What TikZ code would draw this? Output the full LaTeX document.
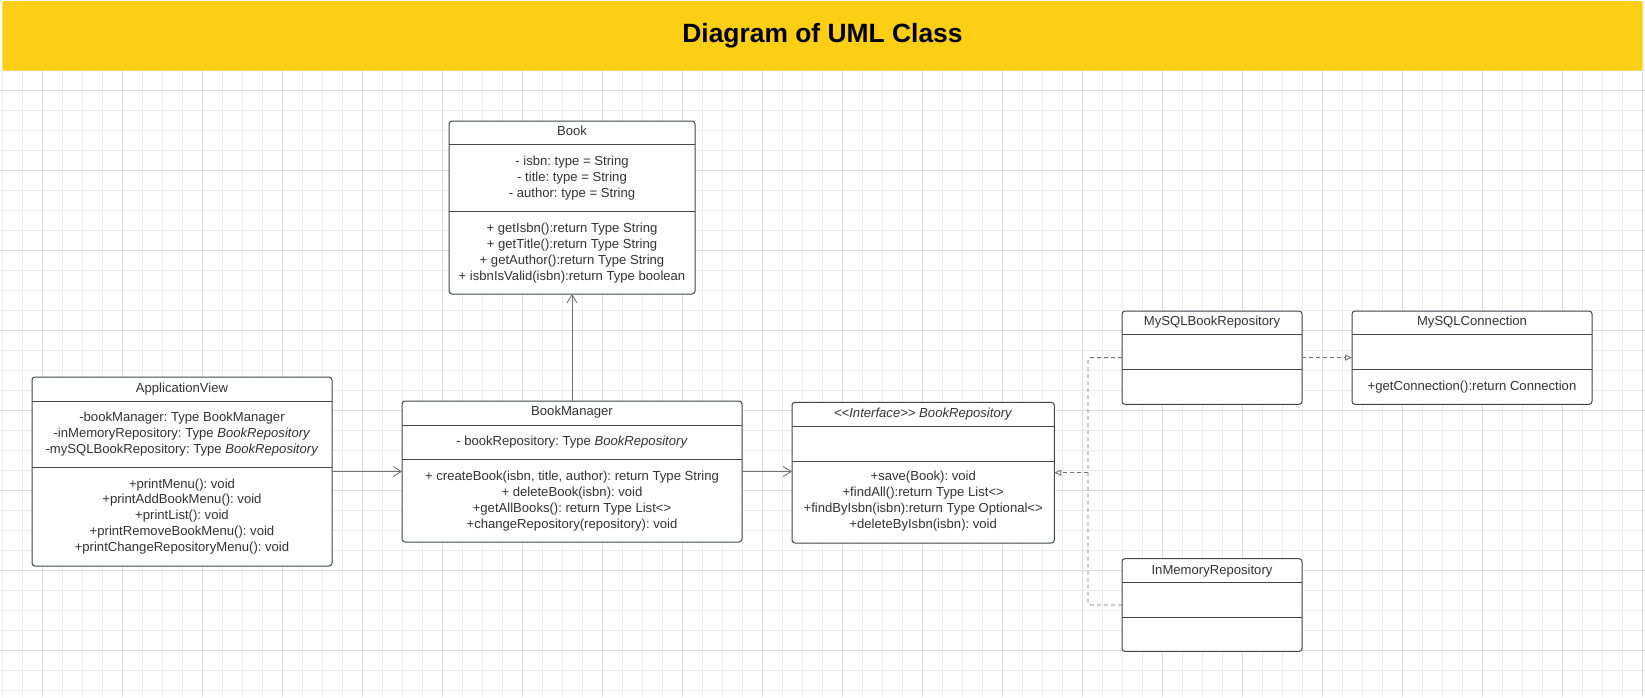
\documentclass[tikz,border=0pt]{standalone}
\usepackage{fontspec}
\setmainfont{Liberation Sans}
\usetikzlibrary{arrows.meta,calc}
\definecolor{bar}{RGB}{252,206,21}
\definecolor{gridminor}{RGB}{236,236,236}
\definecolor{gridmajor}{RGB}{220,220,220}
\definecolor{boxline}{RGB}{66,70,76}
\definecolor{txt}{RGB}{51,51,51}
\definecolor{conn}{RGB}{115,115,115}
\frenchspacing
\begin{document}
\begin{tikzpicture}[x=1pt,y=-1pt,
  cls/.style={draw=boxline, line width=1pt, rounded corners=3pt, fill=white, inner sep=0pt, outer sep=0pt, anchor=north west},
  sep/.style={draw=boxline, line width=1pt},
  ln/.style={font=\fontsize{13.1}{15.9}\selectfont\frenchspacing, text=txt, inner sep=0pt, anchor=base},
  assoc/.style={draw=conn, line width=0.9pt, -{Straight Barb[length=8pt,width=10pt,line width=0.9pt]}},
  real/.style={draw=conn, line width=0.9pt, dash pattern=on 4pt off 3pt, rounded corners=3pt},
  realtip/.style={-{Triangle[open,length=7pt,width=6pt,line width=0.9pt]}}
]
\useasboundingbox (0,0) rectangle (1645,697);
\fill[white] (0,0) rectangle (1645,697);
% grid
\foreach \i in {0,...,82} \draw[gridminor, line width=0.7pt] ({2.3+20*\i},70) -- ({2.3+20*\i},697);
\foreach \j in {3,...,34} \draw[gridminor, line width=0.7pt] (0,{10.3+20*\j}) -- (1645,{10.3+20*\j});
\foreach \i in {0,...,20} \draw[gridmajor, line width=0.8pt] ({42.3+80*\i},70) -- ({42.3+80*\i},697);
\foreach \j in {0,...,7} \draw[gridmajor, line width=0.8pt] (0,{90.3+80*\j}) -- (1645,{90.3+80*\j});
% title bar
\fill[bar, rounded corners=2pt] (2.3,1) rectangle (1642.7,70.7);
\node[font=\fontsize{26.4}{30}\selectfont\bfseries, anchor=base, inner sep=0pt] (title) at (822.5,42.3) {Diagram of UML Class};

% Book
\node[cls, minimum width=246pt, minimum height=173pt] (book) at (449,121) {};
\draw[sep] ([yshift=-23.7pt]book.north west) -- ([yshift=-23.7pt]book.north east);
\draw[sep] ([yshift=-90pt]book.north west) -- ([yshift=-90pt]book.north east);
\node[ln] (book-t) at (572,135.7) {Book};
\foreach \t [count=\i] in {{- isbn: type = String},{- title: type = String},{- author: type = String}}
  \node[ln] (book-a\i) at (572,{165.4+15.9*(\i-1)}) {\t};
\foreach \t [count=\i] in {{+ getIsbn():return Type String},{+ getTitle():return Type String},{+ getAuthor():return Type String},{+ isbnIsValid(isbn):return Type boolean}}
  \node[ln] (book-m\i) at (572,{232.4+15.9*(\i-1)}) {\t};

% ApplicationView
\node[cls, minimum width=300pt, minimum height=189pt] (av) at (32,377) {};
\draw[sep] ([yshift=-24pt]av.north west) -- ([yshift=-24pt]av.north east);
\draw[sep] ([yshift=-90.7pt]av.north west) -- ([yshift=-90.7pt]av.north east);
\node[ln] (av-t) at (182,392) {ApplicationView};
\foreach \t [count=\i] in {{-bookManager: Type BookManager},{-inMemoryRepository: Type \textit{BookRepository}},{-mySQLBookRepository: Type \textit{BookRepository}}}
  \node[ln] (av-a\i) at (182,{421.4+15.9*(\i-1)}) {\t};
\foreach \t [count=\i] in {{+printMenu(): void},{+printAddBookMenu(): void},{+printList(): void},{+printRemoveBookMenu(): void},{+printChangeRepositoryMenu(): void}}
  \node[ln] (av-m\i) at (182,{488+15.9*(\i-1)}) {\t};

% BookManager
\node[cls, minimum width=340pt, minimum height=141pt] (bm) at (402,401) {};
\draw[sep] ([yshift=-24pt]bm.north west) -- ([yshift=-24pt]bm.north east);
\draw[sep] ([yshift=-58.3pt]bm.north west) -- ([yshift=-58.3pt]bm.north east);
\node[ln] (bm-t) at (572,415.7) {BookManager};
\node[ln] (bm-a1) at (572,445.4) {- bookRepository: Type \textit{BookRepository}};
\foreach \t [count=\i] in {{+ createBook(isbn, title, author): return Type String},{+ deleteBook(isbn): void},{+getAllBooks(): return Type List<>},{+changeRepository(repository): void}}
  \node[ln] (bm-m\i) at (572,{480.4+15.9*(\i-1)}) {\t};

% BookRepository
\node[cls, minimum width=262.3pt, minimum height=140.7pt] (br) at (792,402.3) {};
\draw[sep] ([yshift=-24.4pt]br.north west) -- ([yshift=-24.4pt]br.north east);
\draw[sep] ([yshift=-58.7pt]br.north west) -- ([yshift=-58.7pt]br.north east);
\node[ln] (br-t) at (923.2,417) {\textit{<\kern0pt<Interface>\kern0pt> BookRepository}};
\foreach \t [count=\i] in {{+save(Book): void},{+findAll():return Type List<>},{+findByIsbn(isbn):return Type Optional<>},{+deleteByIsbn(isbn): void}}
  \node[ln] (br-m\i) at (923.2,{480.7+15.9*(\i-1)}) {\t};

% MySQLBookRepository
\node[cls, minimum width=180pt, minimum height=93.3pt] (mysqlbr) at (1122,311) {};
\draw[sep] ([yshift=-23.3pt]mysqlbr.north west) -- ([yshift=-23.3pt]mysqlbr.north east);
\draw[sep] ([yshift=-58.3pt]mysqlbr.north west) -- ([yshift=-58.3pt]mysqlbr.north east);
\node[ln] (mysqlbr-t) at (1212,325.7) {MySQLBookRepository};

% MySQLConnection
\node[cls, minimum width=240pt, minimum height=93.3pt] (mysqlconn) at (1352,311) {};
\draw[sep] ([yshift=-23.3pt]mysqlconn.north west) -- ([yshift=-23.3pt]mysqlconn.north east);
\draw[sep] ([yshift=-58.3pt]mysqlconn.north west) -- ([yshift=-58.3pt]mysqlconn.north east);
\node[ln] (mysqlconn-t) at (1472,325.7) {MySQLConnection};
\node[ln] (mysqlconn-m1) at (1472,390.4) {+getConnection():return Connection};

% InMemoryRepository
\node[cls, minimum width=180pt, minimum height=92.6pt] (inmem) at (1122,558.7) {};
\draw[sep] ([yshift=-24pt]inmem.north west) -- ([yshift=-24pt]inmem.north east);
\draw[sep] ([yshift=-58.6pt]inmem.north west) -- ([yshift=-58.6pt]inmem.north east);
\node[ln] (inmem-t) at (1212,574) {InMemoryRepository};

% connectors
\draw[assoc] (bm.north) -- (book.south);
\draw[assoc] (av.east) -- (av.east -| bm.west);
\draw[assoc] (bm.east) -- (bm.east -| br.west);
\coordinate (jx) at (1088,0);
\coordinate (junc) at (jx |- br.east);
\draw[real] (mysqlbr.west) -| (junc);
\draw[real] (inmem.west) -| (junc);
\draw[real, realtip] (junc) -- (br.east);
\draw[real, realtip] (mysqlbr.east) -- (mysqlconn.west);
\end{tikzpicture}
\end{document}
